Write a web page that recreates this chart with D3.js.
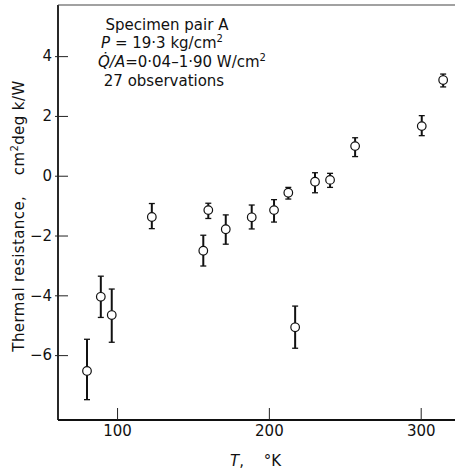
<!DOCTYPE html>
<html lang="en">
<head>
    <meta charset="UTF-8">
    <title>Thermal resistance vs temperature</title>
    <script src="https://d3js.org/d3.v7.min.js"></script>
    <style>
        body { margin: 0; background: #fff; }
        svg { display: block; font-family: "DejaVu Sans", sans-serif; }
    </style>
</head>
<body>
<svg width="457" height="470"></svg>
<script>
    // Data (T in K, thermal resistance in cm^2 deg K/W)
    var temps  = [80.2, 89.3, 96.5, 122.9, 156.8, 160.1, 171.6, 188.7, 203.4, 212.8, 217.3, 230.4, 240.3, 256.8, 300.7, 314.8];
    var resist = [-6.53, -4.05, -4.66, -1.38, -2.51, -1.15, -1.79, -1.39, -1.15, -0.57, -5.07, -0.20, -0.14, 0.99, 1.66, 3.20];
    var errTop = [-5.47, -3.36, -3.79, -0.93, -1.99, -0.92, -1.31, -0.98, -0.80, -0.39, -4.36, 0.10, 0.08, 1.27, 2.01, 3.40];
    var errBot = [-7.49, -4.74, -5.57, -1.77, -3.02, -1.43, -2.29, -1.78, -1.55, -0.78, -5.77, -0.57, -0.39, 0.64, 1.34, 2.97];
    var xTicks = [100, 200, 300];
    var yTicks = [-6, -4, -2, 0, 2, 4];

    var svg = d3.select("svg");

    var x = d3.scaleLinear().domain([61.1, 322.6]).range([58, 455]);
    var y = d3.scaleLinear().domain([-8.17, 5.71]).range([420, 5]);

    // frame: left, bottom, faint top
    svg.append("line").attr("x1", 58).attr("x2", 58).attr("y1", 5).attr("y2", 420)
        .attr("stroke", "#111").attr("stroke-width", 1.8);
    svg.append("line").attr("x1", 58).attr("x2", 455).attr("y1", 420).attr("y2", 420)
        .attr("stroke", "#111").attr("stroke-width", 1.8);
    svg.append("line").attr("x1", 58).attr("x2", 455).attr("y1", 5).attr("y2", 5)
        .attr("stroke", "#444").attr("stroke-width", 1.2);

    // axes
    var yAxis = svg.append("g")
        .attr("transform", "translate(58,0)")
        .call(d3.axisLeft(y).tickValues(yTicks).tickSizeInner(-10).tickSizeOuter(0).tickPadding(6));
    yAxis.select(".domain").remove();
    yAxis.selectAll(".tick line").attr("x1", -3).attr("stroke", "#222");
    yAxis.selectAll("text").attr("font-size", 15).attr("font-family", "DejaVu Sans").attr("fill", "#111");

    var xAxis = svg.append("g")
        .attr("transform", "translate(0,420)")
        .call(d3.axisBottom(x).tickValues(xTicks).tickSizeInner(-12).tickSizeOuter(0).tickPadding(5));
    xAxis.select(".domain").remove();
    xAxis.selectAll(".tick line").attr("stroke", "#222");
    xAxis.selectAll("text").attr("font-size", 15).attr("font-family", "DejaVu Sans").attr("fill", "#111");

    // error bars and points
    var pts = svg.append("g").selectAll("g").data(temps).enter().append("g");
    pts.append("line")
        .attr("x1", function(d) { return x(d); }).attr("x2", function(d) { return x(d); })
        .attr("y1", function(d, i) { return y(errTop[i]); })
        .attr("y2", function(d, i) { return y(errBot[i]); })
        .attr("stroke", "#111").attr("stroke-width", 2);
    pts.append("line")
        .attr("x1", function(d) { return x(d) - 3; }).attr("x2", function(d) { return x(d) + 3; })
        .attr("y1", function(d, i) { return y(errTop[i]); })
        .attr("y2", function(d, i) { return y(errTop[i]); })
        .attr("stroke", "#111").attr("stroke-width", 1.3);
    pts.append("line")
        .attr("x1", function(d) { return x(d) - 3; }).attr("x2", function(d) { return x(d) + 3; })
        .attr("y1", function(d, i) { return y(errBot[i]); })
        .attr("y2", function(d, i) { return y(errBot[i]); })
        .attr("stroke", "#111").attr("stroke-width", 1.3);
    pts.append("circle")
        .attr("cx", function(d) { return x(d); })
        .attr("cy", function(d, i) { return y(resist[i]); })
        .attr("r", 4.3)
        .attr("fill", "#fff").attr("stroke", "#111").attr("stroke-width", 1.2);

    // annotation
    var note = svg.append("g").attr("font-size", 15).attr("fill", "#111").attr("text-anchor", "middle");
    note.append("text").attr("x", 167).attr("y", 30).text("Specimen pair A");
    var l2 = note.append("text").attr("x", 162).attr("y", 48);
    l2.append("tspan").attr("font-style", "italic").text("P");
    l2.append("tspan").text(" = 19·3 kg/cm");
    l2.append("tspan").attr("font-size", 10).attr("dy", -6).text("2");
    var l3 = note.append("text").attr("x", 182).attr("y", 67);
    l3.append("tspan").attr("font-style", "italic").text("Q\u0307/A");
    l3.append("tspan").text("=0·04–1·90 W/cm");
    l3.append("tspan").attr("font-size", 10).attr("dy", -6).text("2");
    note.append("text").attr("x", 164).attr("y", 86).text("27 observations");

    // axis titles
    var yt = svg.append("text")
        .attr("transform", "translate(24,216) rotate(-90)")
        .attr("text-anchor", "middle").attr("font-size", 15).attr("letter-spacing", 0.4).attr("fill", "#111");
    yt.append("tspan").text("Thermal resistance,\u2003 cm");
    yt.append("tspan").attr("font-size", 10).attr("dy", -6).text("2");
    yt.append("tspan").attr("dy", 6).text("deg k/W");

    var xt = svg.append("text").attr("x", 230).attr("y", 466).attr("font-size", 15).attr("fill", "#111");
    xt.append("tspan").attr("font-style", "italic").text("T");
    xt.append("tspan").text(",\u2003 °K");
</script>
</body>
</html>
